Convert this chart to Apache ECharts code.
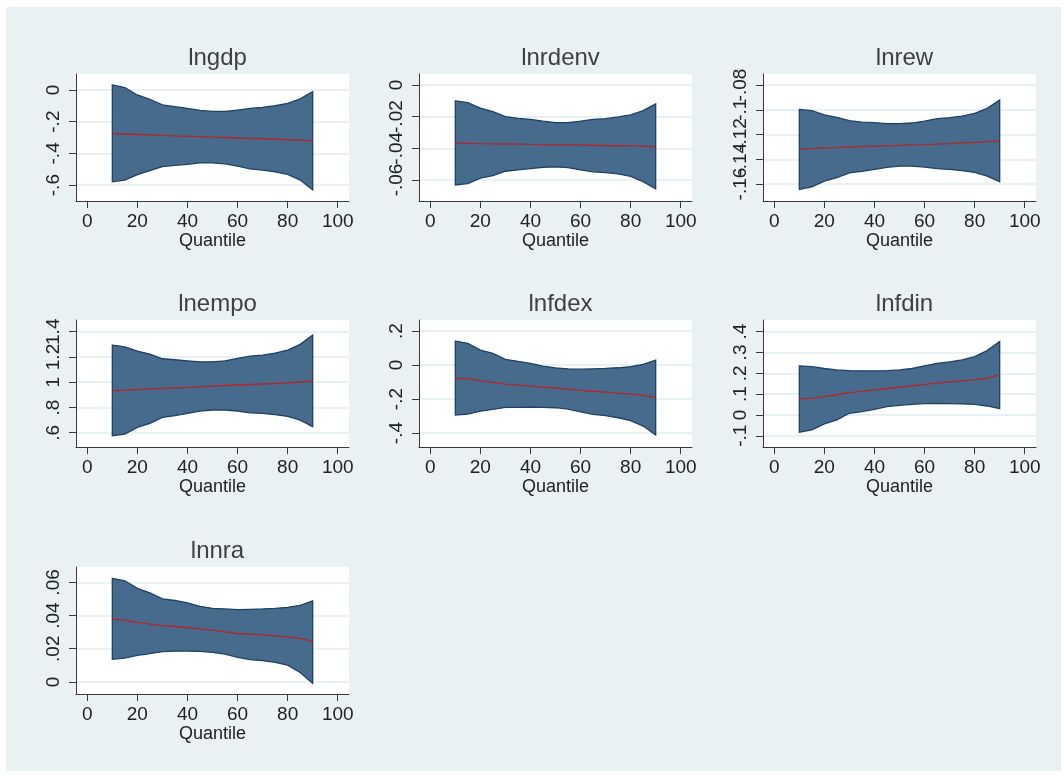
<!DOCTYPE html>
<html>
<head>
<meta charset="utf-8">
<title>Quantile regression coefficients</title>
<script src="https://cdn.jsdelivr.net/npm/echarts@6/dist/echarts.min.js"></script>
<style>
  html, body { margin: 0; padding: 0; background: #ffffff; }
  #frame {
    position: absolute; left: 6px; top: 7px; width: 1055px; height: 764px;
    background: #eaf1f3;
  }
  #chart { position: absolute; left: 0; top: 0; width: 1064px; height: 776px; }
</style>
</head>
<body>
<div id="frame"></div>
<div id="chart"></div>
<script>
// quantiles used for every panel
const quantiles = [10, 15, 20, 25, 30, 35, 40, 45, 50, 55, 60, 65, 70, 75, 80, 85, 90];
const xTicks = [0, 20, 40, 60, 80, 100];

// lngdp
const lngdpCoef = [-0.276, -0.278, -0.281, -0.284, -0.287, -0.290, -0.292, -0.295, -0.298, -0.300, -0.303, -0.305, -0.308, -0.311, -0.314, -0.317, -0.321];
const lngdpLow  = [-0.579, -0.568, -0.534, -0.509, -0.483, -0.475, -0.469, -0.460, -0.460, -0.466, -0.481, -0.498, -0.505, -0.517, -0.532, -0.568, -0.630];
const lngdpHigh = [0.032, 0.015, -0.032, -0.059, -0.095, -0.106, -0.117, -0.129, -0.136, -0.136, -0.127, -0.117, -0.110, -0.100, -0.085, -0.057, -0.011];
const lngdpTicks = [-0.6, -0.4, -0.2, 0];

// lnrdenv
const lnrdenvCoef = [-0.0368, -0.0369, -0.0371, -0.0372, -0.0373, -0.0374, -0.0376, -0.0377, -0.0378, -0.0379, -0.0380, -0.0381, -0.0383, -0.0384, -0.0385, -0.0387, -0.0389];
const lnrdenvLow  = [-0.0632, -0.0623, -0.0589, -0.0573, -0.0545, -0.0537, -0.0528, -0.0520, -0.0518, -0.0522, -0.0537, -0.0549, -0.0554, -0.0562, -0.0577, -0.0611, -0.0657];
const lnrdenvHigh = [-0.0101, -0.0112, -0.0147, -0.0168, -0.0200, -0.0211, -0.0217, -0.0229, -0.0238, -0.0238, -0.0229, -0.0217, -0.0213, -0.0202, -0.0189, -0.0162, -0.0120];
const lnrdenvTicks = [-0.06, -0.04, -0.02, 0];

// lnrew
const lnrewCoef = [-0.1317, -0.1314, -0.1308, -0.1305, -0.1300, -0.1297, -0.1294, -0.1291, -0.1288, -0.1284, -0.1281, -0.1277, -0.1273, -0.1268, -0.1263, -0.1258, -0.1250];
const lnrewLow  = [-0.1643, -0.1622, -0.1576, -0.1549, -0.1509, -0.1498, -0.1482, -0.1465, -0.1455, -0.1455, -0.1463, -0.1476, -0.1482, -0.1492, -0.1506, -0.1536, -0.1581];
const lnrewHigh = [-0.0997, -0.1007, -0.1042, -0.1061, -0.1088, -0.1099, -0.1104, -0.1112, -0.1112, -0.1107, -0.1091, -0.1072, -0.1064, -0.1051, -0.1029, -0.0989, -0.0921];
const lnrewTicks = [-0.16, -0.14, -0.12, -0.1, -0.08];

// lnempo
const lnempoCoef = [0.933, 0.937, 0.942, 0.947, 0.952, 0.956, 0.960, 0.965, 0.970, 0.974, 0.978, 0.982, 0.986, 0.990, 0.995, 1.002, 1.010];
const lnempoLow  = [0.576, 0.589, 0.642, 0.674, 0.721, 0.735, 0.753, 0.772, 0.780, 0.780, 0.772, 0.758, 0.753, 0.743, 0.729, 0.700, 0.648];
const lnempoHigh = [1.294, 1.281, 1.247, 1.223, 1.186, 1.178, 1.170, 1.162, 1.162, 1.170, 1.189, 1.207, 1.215, 1.231, 1.255, 1.300, 1.374];
const lnempoTicks = [0.6, 0.8, 1, 1.2, 1.4];

// lnfdex
const lnfdexCoef = [-0.078, -0.080, -0.092, -0.102, -0.112, -0.118, -0.124, -0.130, -0.135, -0.142, -0.149, -0.154, -0.159, -0.165, -0.171, -0.178, -0.192];
const lnfdexLow  = [-0.294, -0.288, -0.271, -0.261, -0.249, -0.249, -0.247, -0.249, -0.251, -0.259, -0.276, -0.290, -0.298, -0.310, -0.327, -0.359, -0.412];
const lnfdexHigh = [0.141, 0.127, 0.088, 0.069, 0.033, 0.022, 0.010, -0.006, -0.016, -0.022, -0.024, -0.022, -0.020, -0.016, -0.010, 0.004, 0.029];
const lnfdexTicks = [-0.4, -0.2, 0, 0.2];

// lnfdin
const lnfdinCoef = [0.077, 0.080, 0.088, 0.097, 0.107, 0.113, 0.120, 0.127, 0.133, 0.140, 0.147, 0.153, 0.159, 0.164, 0.168, 0.176, 0.192];
const lnfdinLow  = [-0.083, -0.072, -0.043, -0.024, 0.008, 0.016, 0.027, 0.040, 0.046, 0.051, 0.054, 0.056, 0.054, 0.053, 0.051, 0.043, 0.030];
const lnfdinHigh = [0.236, 0.232, 0.223, 0.216, 0.213, 0.212, 0.212, 0.213, 0.216, 0.223, 0.236, 0.248, 0.255, 0.264, 0.280, 0.309, 0.353];
const lnfdinTicks = [-0.1, 0, 0.1, 0.2, 0.3, 0.4];

// lnnra
const lnnraCoef = [0.0379, 0.0373, 0.0359, 0.0349, 0.0339, 0.0334, 0.0328, 0.0320, 0.0312, 0.0302, 0.0292, 0.0288, 0.0284, 0.0278, 0.0272, 0.0262, 0.0243];
const lnnraLow  = [0.0136, 0.0144, 0.0160, 0.0170, 0.0182, 0.0186, 0.0186, 0.0184, 0.0178, 0.0168, 0.0148, 0.0134, 0.0128, 0.0118, 0.0101, 0.0057, -0.0008];
const lnnraHigh = [0.0624, 0.0610, 0.0564, 0.0537, 0.0501, 0.0491, 0.0476, 0.0456, 0.0444, 0.0440, 0.0436, 0.0438, 0.0440, 0.0444, 0.0450, 0.0462, 0.0489];
const lnnraTicks = [0, 0.02, 0.04, 0.06];

const panels = [
  { name: 'lngdp',   coef: lngdpCoef,   low: lngdpLow,   high: lngdpHigh,   ticks: lngdpTicks,   yMin: -0.70,  yMax: 0.10 },
  { name: 'lnrdenv', coef: lnrdenvCoef, low: lnrdenvLow, high: lnrdenvHigh, ticks: lnrdenvTicks, yMin: -0.0733, yMax: 0.0069 },
  { name: 'lnrew',   coef: lnrewCoef,   low: lnrewLow,   high: lnrewHigh,   ticks: lnrewTicks,   yMin: -0.1737, yMax: -0.0711 },
  { name: 'lnempo',  coef: lnempoCoef,  low: lnempoLow,  high: lnempoHigh,  ticks: lnempoTicks,  yMin: 0.487,  yMax: 1.493 },
  { name: 'lnfdex',  coef: lnfdexCoef,  low: lnfdexLow,  high: lnfdexHigh,  ticks: lnfdexTicks,  yMin: -0.482, yMax: 0.265 },
  { name: 'lnfdin',  coef: lnfdinCoef,  low: lnfdinLow,  high: lnfdinHigh,  ticks: lnfdinTicks,  yMin: -0.154, yMax: 0.456 },
  { name: 'lnnra',   coef: lnnraCoef,   low: lnnraLow,   high: lnnraHigh,   ticks: lnnraTicks,   yMin: -0.0073, yMax: 0.0693 },
];

// layout of the 3x3 grid (plot region in pixels)
const colLeft = [76, 419, 763];
const rowTop = [74, 320, 567];
const plotW = 273;
const plotH = 127;

const FONT = '"Liberation Sans", Arial, sans-serif';
const BAND_FILL = '#476b8c';
const BAND_EDGE = '#1d4266';
const COEF_RED = '#b3262b';
const AXIS_COLOR = '#3a3a3a';

// Stata style numbers: .2 instead of 0.2
const stataNum = (v) => {
  const s = String(Math.round(v * 10000) / 10000);
  return s.replace(/^(-?)0\./, '$1.');
};

const yLabelStyle = {
  rotate: 90,
  margin: 13,
  fontFamily: FONT,
  fontSize: 19,
  color: '#222',
  showMinLabel: true,
  showMaxLabel: true,
  hideOverlap: false,
  formatter: (v) => stataNum(v),
};

const chart = echarts.init(document.getElementById('chart'));

const grid = [];
const xAxis = [];
const yAxis = [];
const title = [];
const series = [];

panels.forEach((p, i) => {
  const left = colLeft[i % 3];
  const top = rowTop[Math.floor(i / 3)];

  grid.push({ left, top, width: plotW, height: plotH, containLabel: false,
    show: true, backgroundColor: '#ffffff', borderWidth: 0 });

  title.push({
    text: p.name,
    left: left + plotW / 2,
    top: top - 33,
    textAlign: 'center',
    textStyle: { fontFamily: FONT, fontSize: 24, fontWeight: 'normal', color: '#404040' },
  });

  xAxis.push({
    type: 'value',
    gridIndex: i,
    min: -4.5,
    max: 104.5,
    name: 'Quantile',
    nameLocation: 'middle',
    nameGap: 29,
    nameTextStyle: { fontFamily: FONT, fontSize: 18, color: '#222' },
    axisLine: { show: true, onZero: false, lineStyle: { color: AXIS_COLOR, width: 1 } },
    axisTick: { show: true, length: 7, customValues: xTicks, lineStyle: { color: AXIS_COLOR } },
    axisLabel: { customValues: xTicks, margin: 11, fontFamily: FONT, fontSize: 19, color: '#222',
      showMinLabel: true, showMaxLabel: true },
    splitLine: { show: false },
  });

  // y labels overlap in Stata's output, so they are split over two
  // stacked axes (even / odd ticks) to keep ECharts from dropping any
  const evenTicks = p.ticks.filter((_, k) => k % 2 === 0);
  const oddTicks = p.ticks.filter((_, k) => k % 2 === 1);

  yAxis.push({
    type: 'value',
    gridIndex: i,
    min: p.yMin,
    max: p.yMax,
    axisLine: { show: true, onZero: false, lineStyle: { color: AXIS_COLOR, width: 1 } },
    axisTick: { show: true, length: 7, customValues: p.ticks, lineStyle: { color: AXIS_COLOR } },
    axisLabel: Object.assign({ customValues: evenTicks }, yLabelStyle),
    splitLine: { show: true, lineStyle: { color: '#e3ecef', width: 1.5 } },
  });
  yAxis.push({
    type: 'value',
    gridIndex: i,
    position: 'left',
    offset: 0,
    min: p.yMin,
    max: p.yMax,
    axisLine: { show: false, onZero: false },
    axisTick: { show: false },
    axisLabel: Object.assign({ customValues: oddTicks }, yLabelStyle),
    splitLine: { show: false },
  });

  // confidence band as one polygon through the axis scales
  series.push({
    type: 'custom',
    xAxisIndex: i,
    yAxisIndex: 2 * i,
    silent: true,
    data: quantiles.map((q, k) => [q, p.low[k], p.high[k]]),
    encode: { x: 0, y: [1, 2] },
    renderItem: (params, api) => {
      if (params.dataIndex !== 0) return null;
      const pts = [];
      quantiles.forEach((q, k) => pts.push(api.coord([q, p.high[k]])));
      for (let k = quantiles.length - 1; k >= 0; k--) {
        pts.push(api.coord([quantiles[k], p.low[k]]));
      }
      return {
        type: 'polygon',
        shape: { points: pts },
        style: { fill: BAND_FILL, stroke: BAND_EDGE, lineWidth: 1.3 },
      };
    },
    z: 2,
  });

  series.push({
    type: 'line',
    xAxisIndex: i,
    yAxisIndex: 2 * i,
    data: quantiles.map((q, k) => [q, p.coef[k]]),
    showSymbol: false,
    silent: true,
    lineStyle: { color: COEF_RED, width: 1.3 },
    z: 3,
  });
});

chart.setOption({
  animation: false,
  title,
  grid,
  xAxis,
  yAxis,
  series,
});
</script>
</body>
</html>
